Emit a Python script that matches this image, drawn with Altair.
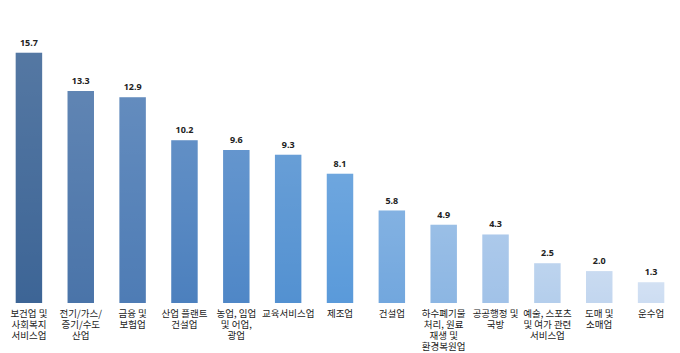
import altair as alt
import pandas as pd

categories = [
    "보건업 및|사회복지|서비스업",
    "전기/가스/|증기/수도|산업",
    "금융 및|보험업",
    "산업 플랜트|건설업",
    "농업, 임업|및 어업,|광업",
    "교육서비스업",
    "제조업",
    "건설업",
    "하수폐기물|처리, 원료|재생 및|환경복원업",
    "공공행정 및|국방",
    "예술, 스포츠|및 여가 관련|서비스업",
    "도매 및|소매업",
    "운수업",
]
values = [15.7, 13.3, 12.9, 10.2, 9.6, 9.3, 8.1, 5.8, 4.9, 4.3, 2.5, 2.0, 1.3]
colors = ["#3D6596", "#4A74A9", "#4E7CB5", "#4C80BE", "#4F87C7", "#5391D1", "#5A9ADA",
          "#72A7DE", "#8CB6E3", "#A1C2E8", "#B4CEEC", "#C2D6EF", "#CDDDF2"]

df = pd.DataFrame({"cat": categories, "val": values})
df["label"] = df["val"].map(lambda v: f"{v:.1f}")

x = alt.X("cat:N", sort=None, title=None,
          scale=alt.Scale(paddingInner=0.49, paddingOuter=0.245),
          axis=alt.Axis(labelAngle=0, domain=False, ticks=False, labelPadding=5,
                        labelExpr="split(datum.label, '|')", labelFont="Noto Sans CJK KR",
                        labelFontSize=9.5, labelColor="#1a1a1a", labelLineHeight=11,
                        labelBaseline="top", labelLimit=0))
y = alt.Y("val:Q", title=None, scale=alt.Scale(domain=[0, 19.0], nice=False),
          axis=None)

bars = alt.Chart(df).mark_bar().encode(
    x=x, y=y,
    color=alt.Color("cat:N", sort=None, scale=alt.Scale(domain=categories, range=colors), legend=None),
)
shade = alt.Chart(df).mark_bar(
    color=alt.Gradient(gradient="linear", x1=0, x2=0, y1=0, y2=1,
                       stops=[alt.GradientStop(color="rgba(255,255,255,0.12)", offset=0),
                              alt.GradientStop(color="rgba(255,255,255,0)", offset=1)])
).encode(x=x, y=y)
text = alt.Chart(df).mark_text(baseline="bottom", dy=-5, font="Noto Sans", fontSize=9,
                               fontWeight="bold", color="#222222").encode(
    x=x, y=y, text="label:N")

chart = alt.layer(bars, shade, text).properties(
    width=674, height=303,
    autosize=alt.AutoSizeParams(type="none"),
    padding={"left": 3, "right": 3, "top": 0, "bottom": 50},
).configure_view(stroke=None)

chart.save("out.html", embed_options={"renderer": "svg", "actions": False})
